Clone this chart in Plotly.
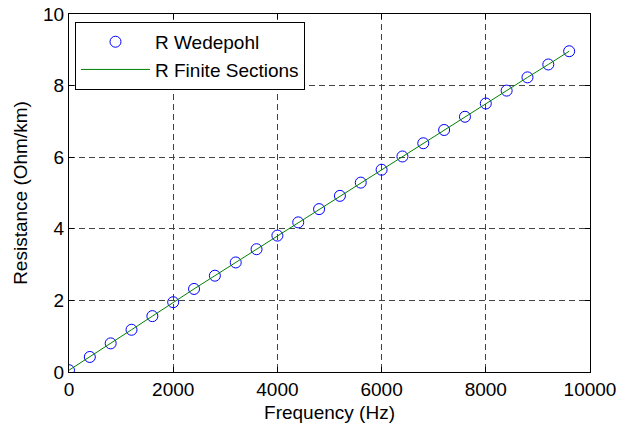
import plotly.graph_objects as go

freq_hz = [0, 400, 800, 1200, 1600, 2000, 2400, 2800, 3200, 3600, 4000, 4400, 4800,
           5200, 5600, 6000, 6400, 6800, 7200, 7600, 8000, 8400, 8800, 9200, 9600]
r_wedepohl = [0.05, 0.42, 0.80, 1.18, 1.56, 1.95, 2.32, 2.69, 3.06, 3.43, 3.81, 4.18, 4.55,
              4.92, 5.29, 5.65, 6.02, 6.39, 6.76, 7.13, 7.50, 7.86, 8.23, 8.59, 8.96]
r_finite = [0.05, 0.42, 0.80, 1.18, 1.56, 1.95, 2.32, 2.69, 3.06, 3.43, 3.81, 4.18, 4.55,
            4.92, 5.29, 5.65, 6.02, 6.39, 6.76, 7.13, 7.50, 7.86, 8.23, 8.59, 8.96]
x_ticks = [0, 2000, 4000, 6000, 8000, 10000]
y_ticks = [0, 2, 4, 6, 8, 10]

FONT = "Liberation Sans, Arial, sans-serif"
FS = 19

fig = go.Figure()
fig.add_trace(go.Scatter(
    x=freq_hz, y=r_wedepohl, mode="markers", name="R Wedepohl",
    marker=dict(symbol="circle-open", size=11, color="#0000ff", line=dict(width=1, color="#0000ff")),
))
fig.add_trace(go.Scatter(
    x=freq_hz, y=r_finite, mode="lines", name="R Finite Sections",
    line=dict(color="#008000", width=1),
))

axis_common = dict(
    showline=True, linecolor="black", linewidth=1, mirror="ticks",
    ticks="inside", ticklen=5, tickcolor="black", tickwidth=1,
    showgrid=True, gridcolor="#444444", gridwidth=1, griddash="6px,4px",
    zeroline=False, automargin=False,
    tickfont=dict(family=FONT, size=FS, color="black"),
)

fig.update_xaxes(range=[0, 10000], tickvals=x_ticks, ticktext=[str(v) for v in x_ticks],
                 title=dict(text="Frequency (Hz)", font=dict(family=FONT, size=FS, color="black"), standoff=6),
                 **axis_common)
fig.update_yaxes(range=[0, 10], tickvals=y_ticks, ticktext=[str(v) for v in y_ticks],
                 title=dict(text="Resistance (Ohm/km)", font=dict(family=FONT, size=FS, color="black"), standoff=10),
                 **axis_common)

fig.update_layout(
    width=618, height=427,
    margin=dict(l=69, r=28, t=14, b=55, autoexpand=False),
    plot_bgcolor="white", paper_bgcolor="white",
    font=dict(family=FONT, size=FS, color="black"),
    showlegend=True,
    legend=dict(x=0.0115, y=0.978, xanchor="left", yanchor="top",
                bgcolor="white", bordercolor="black", borderwidth=1,
                font=dict(family=FONT, size=FS, color="black"),
                itemwidth=69, tracegroupgap=0),
)

fig.write_html("out.html",
               config={"displayModeBar": False},
               post_script="document.body.style.margin='0';document.body.style.padding='0';")
